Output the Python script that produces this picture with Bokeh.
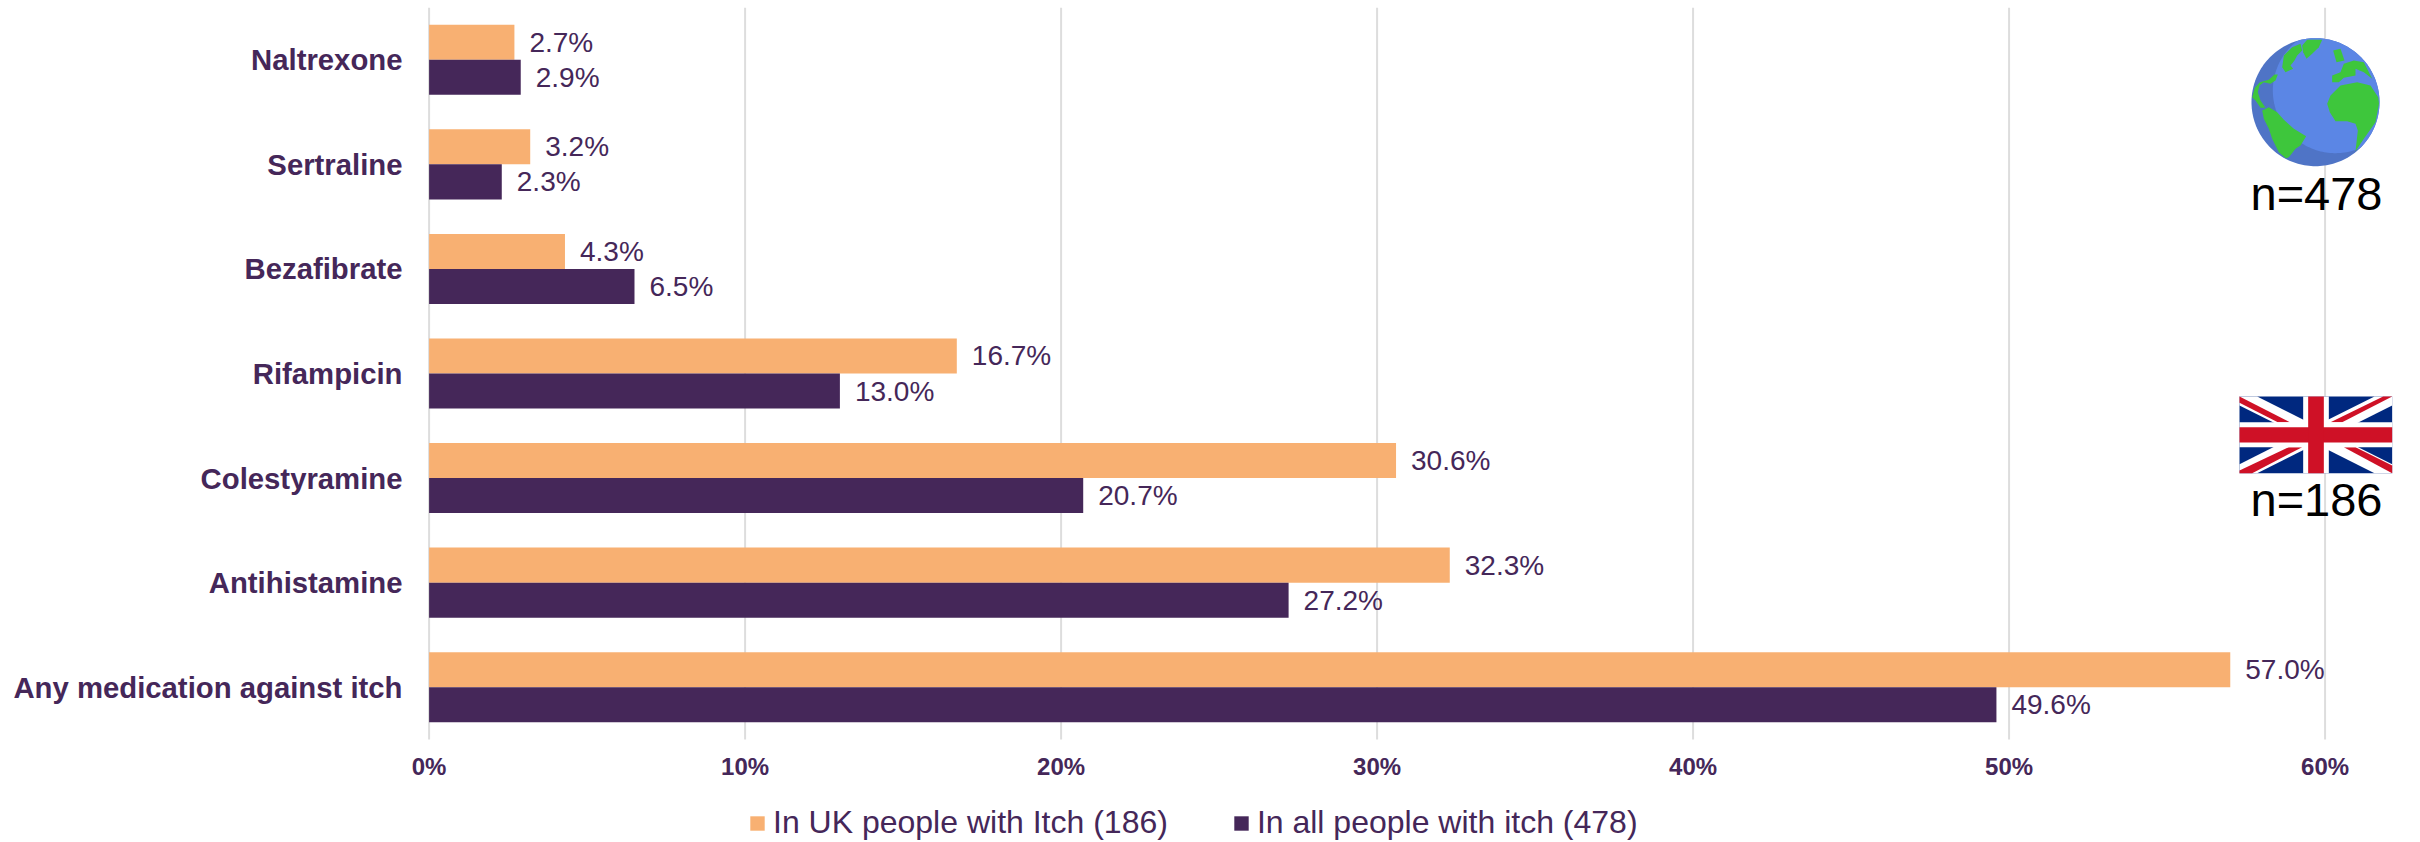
import numpy as np
from bokeh.plotting import figure
from bokeh.embed import file_html
from bokeh.resources import INLINE
from bokeh.core.properties import value
from bokeh.models import (ColumnDataSource, Range1d, FixedTicker,
                          PrintfTickFormatter, Legend, LegendItem)

# ---- data (bottom to top, as the axis runs) ----
categories = ["Any medication against itch", "Antihistamine", "Colestyramine",
              "Rifampicin", "Bezafibrate", "Sertraline", "Naltrexone"]
uk_values = [57.0, 32.3, 30.6, 16.7, 4.3, 3.2, 2.7]
all_values = [49.6, 27.2, 20.7, 13.0, 6.5, 2.3, 2.9]
x_ticks = [0, 10, 20, 30, 40, 50, 60]
uk_name = "In UK people with Itch (186)"
all_name = "In all people with itch (478)"

ORANGE = "#F8B072"
PURPLE = "#452759"
FONT = "Liberation Sans"
OFF = 0.1675
N = len(categories)

centers = [i + 0.5 for i in range(N)]
src = ColumnDataSource(dict(
    y_uk=[c + OFF for c in centers], y_all=[c - OFF for c in centers],
    uk=uk_values, all=all_values,
    uk_label=[f"{v:.1f}%" for v in uk_values],
    all_label=[f"{v:.1f}%" for v in all_values],
))

# the frame runs to the foot of the page so that the legend lies inside it,
# and starts left of 0% so that the "0%" tick label is not cut
p = figure(width=2420, height=842, output_backend="svg", toolbar_location=None,
           x_range=Range1d(-0.905, 63.02), y_range=Range1d(-0.985, N),
           min_border_left=400, min_border_right=0, min_border_top=7, min_border_bottom=0,
           outline_line_color=None, background_fill_color="white")
p.extra_x_ranges = {"px": Range1d(400, 2420)}
p.extra_y_ranges = {"px": Range1d(842, 7)}

# axes and grid
p.xaxis.fixed_location = 0
p.xaxis.ticker = FixedTicker(ticks=x_ticks)
p.xaxis.formatter = PrintfTickFormatter(format="%d%%")
p.xaxis.axis_line_color = None
p.xaxis.major_tick_line_color = None
p.xaxis.minor_tick_line_color = None
p.xaxis.major_label_text_font = FONT
p.xaxis.major_label_text_font_style = "bold"
p.xaxis.major_label_text_font_size = "24px"
p.xaxis.major_label_text_color = PURPLE
p.xaxis.major_label_standoff = 8
p.yaxis.ticker = FixedTicker(ticks=centers)
p.yaxis.major_label_overrides = dict(zip(centers, categories))
p.yaxis.axis_line_color = None
p.yaxis.major_tick_line_color = None
p.yaxis.minor_tick_line_color = None
p.yaxis.major_tick_out = 0
p.yaxis.major_label_text_font = FONT
p.yaxis.major_label_text_font_style = "bold"
p.yaxis.major_label_text_font_size = "29.3px"
p.yaxis.major_label_text_color = PURPLE
p.yaxis.major_label_standoff = -2
p.grid.visible = False

# grid lines stop at the foot of the bar area
p.segment(x0=x_ticks, x1=x_ticks, y0=[0] * len(x_ticks), y1=[N] * len(x_ticks),
          line_color="#DDDDDD", line_width=2)

# bars
r_uk = p.hbar(y="y_uk", right="uk", left=0, height=0.335,
              source=src, fill_color=ORANGE, line_color=None)
r_all = p.hbar(y="y_all", right="all", left=0, height=0.335,
               source=src, fill_color=PURPLE, line_color=None)

# value labels
for col, lab, yc in (("uk", "uk_label", "y_uk"), ("all", "all_label", "y_all")):
    p.text(x=col, y=yc, text=lab, source=src, x_offset=15,
           text_font=value(FONT), text_font_size="28px", text_color=PURPLE,
           text_baseline="middle", text_align="left")

# legend
legend = Legend(items=[LegendItem(label=uk_name, renderers=[r_uk]),
                       LegendItem(label=all_name, renderers=[r_all])],
                orientation="horizontal", location=(348, 1),
                background_fill_alpha=0, border_line_color=None, padding=0, margin=0,
                glyph_width=18, glyph_height=18, label_standoff=7, spacing=64,
                label_text_font=FONT, label_text_font_size="32px", label_text_color=PURPLE)
p.add_layout(legend, "center")

# ---- decorative icons, drawn in page pixels ----
def px(**kw):
    return dict(x_range_name="px", y_range_name="px", **kw)

cx, cy, R = 2315.0, 101.7, 64.0

def clamp(poly):
    """globe outline given in a 3x crop whose origin is (2200, 0), kept inside the globe"""
    a = np.array(poly, dtype=float) / 3 + np.array([2200.0, 0.0])
    d = a - [cx, cy]
    n = np.hypot(d[:, 0], d[:, 1])
    f = np.minimum(1, (R - 0.5) / n)
    return (np.array([cx, cy]) + d * f[:, None]).T

th = np.linspace(0, 2 * np.pi, 181)
p.patch(cx + R * np.cos(th), cy + R * np.sin(th), fill_color="#4F74C6", line_color=None, **px())

# lighter ocean: light disc intersected with the globe
lx, ly, lr = 2200 + 405 / 3, 270 / 3, 188 / 3
u = np.cos(th), np.sin(th)
b = (cx - lx) * u[0] + (cy - ly) * u[1]
c = (cx - lx) ** 2 + (cy - ly) ** 2 - lr ** 2
ray = np.minimum(-b + np.sqrt(b * b - c), R)
p.patch(cx + ray * u[0], cy + ray * u[1], fill_color="#5B86E5", line_color=None, **px())

LAND = [
    [(380, 310), (390, 285), (420, 255), (470, 245), (510, 255), (533, 290), (537, 310), (525, 365),
     (490, 415), (465, 452), (472, 390), (465, 370), (440, 362), (405, 362), (388, 335)],
    [(185, 330), (205, 320), (230, 335), (250, 358), (280, 385), (317, 407), (300, 435), (285, 445),
     (265, 470), (255, 475), (235, 455), (215, 415), (205, 385), (190, 355)],
    [(155, 290), (163, 262), (178, 245), (205, 238), (222, 222), (232, 222), (225, 240), (210, 250),
     (190, 245), (177, 255), (172, 275), (180, 300), (195, 322), (180, 322), (165, 300)],
    [(250, 165), (275, 140), (300, 130), (305, 150), (290, 165), (282, 180), (270, 195), (278, 205),
     (255, 215), (245, 200), (248, 180)],
    [(305, 135), (320, 118), (365, 118), (355, 140), (335, 160), (318, 175), (308, 155)],
    [(395, 245), (395, 225), (420, 215), (430, 190), (460, 180), (490, 185), (515, 235), (490, 215),
     (465, 205), (465, 225), (430, 232), (415, 245)],
    [(398, 150), (420, 145), (432, 180), (408, 185)],
]
for poly in LAND:
    xs, ys = clamp(poly)
    p.patch(xs, ys, fill_color="#3EC63C", line_color=None, **px())

# Union flag, outlined in a 3x crop whose origin is (2200, 370)
def flag(poly, color):
    a = np.array(poly, dtype=float) / 3 + np.array([2200.0, 370.0])
    p.patch(a[:, 0], a[:, 1], fill_color=color, line_color=None, **px())

WHITE, BLUE, RED = "#FFFFFF", "#00287F", "#CF1126"
flag([(117, 78), (575, 78), (575, 308), (117, 308)], BLUE)
flag([(117, 78), (170, 78), (575, 281), (575, 308), (522, 308), (117, 105)], WHITE)
flag([(575, 78), (522, 78), (117, 281), (117, 308), (170, 308), (575, 105)], WHITE)
flag([(117, 78), (268, 155), (232, 155), (117, 97)], RED)
flag([(430, 230), (465, 230), (575, 285), (575, 308)], RED)
flag([(548, 78), (575, 78), (425, 155), (390, 155)], RED)
flag([(117, 300), (265, 230), (305, 230), (155, 308), (117, 308)], RED)
flag([(117, 155), (575, 155), (575, 230), (117, 230)], WHITE)
flag([(308, 78), (385, 78), (385, 308), (308, 308)], WHITE)
flag([(117, 170), (575, 170), (575, 216), (117, 216)], RED)
flag([(323, 78), (370, 78), (370, 308), (323, 308)], RED)

# n labels
for txt, ty in (("n=478", 193.0), ("n=186", 498.7)):
    p.text(x=[2316], y=[ty], text=[txt], text_font=value(FONT), text_font_size="47px",
           text_color="black", text_align="center", text_baseline="alphabetic", **px())

open("out.html", "w").write(file_html(p, INLINE))
